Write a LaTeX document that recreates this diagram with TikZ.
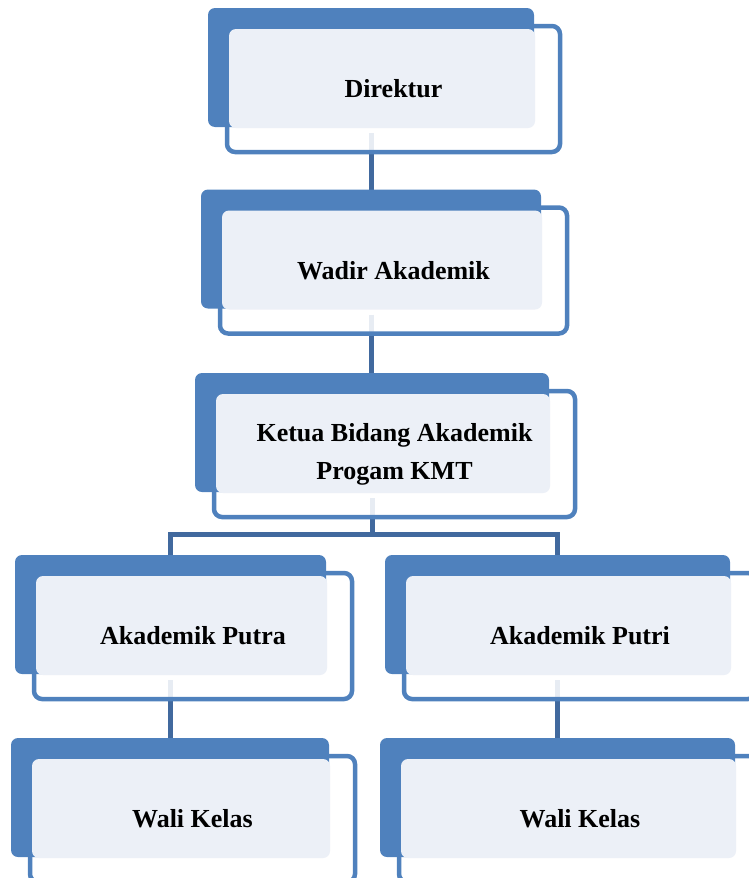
\documentclass[tikz,border=0pt]{standalone}
\usepackage{fontspec}
\setmainfont{Liberation Serif}
\usetikzlibrary{backgrounds,fit}
\pgfdeclarelayer{lines}
\pgfsetlayers{lines,background,main}

\definecolor{boxblue}{HTML}{4F81BD}
\definecolor{lineblue}{HTML}{41699E}
\definecolor{paleblue}{HTML}{ECF0F7}

% one unit of the chart: text node, ring behind, dark block, pale face
\newcommand{\orgbox}[4]{%
  \node[unit,minimum width=#3pt] (#1) at (#2) {#4};
  \coordinate (#1-nw) at ([shift={(-19,-18)}]#1.north west);
  \coordinate (#1-se) at ([shift={(-25,-24)}]#1.south east);
  \coordinate (#1-in) at ([shift={(-26,-25)}]#1.south east);
  \begin{pgfonlayer}{background}
    \draw[ring] (#1.north west) rectangle (#1.south east);
    \node[back,fit=(#1-nw)(#1-in)] (#1-bg) {};
    \fill[face] ([shift={(2,3)}]#1.north west) rectangle (#1-se);
  \end{pgfonlayer}
}

\begin{document}
\begin{tikzpicture}[x=1pt,y=-1pt,
    unit/.style={inner sep=0pt,outer sep=0pt,minimum height=126pt,align=center,
                 font=\bfseries\fontsize{26}{38}\selectfont},
    ring/.style={draw=boxblue,line width=4.5pt,rounded corners=8pt,fill=white,fill opacity=.88},
    back/.style={fill=boxblue,inner sep=0pt,outer sep=0pt,rounded corners=7pt},
    face/.style={fill=paleblue,rounded corners=7pt},
    conn/.style={draw=lineblue,line width=5pt}]

  \useasboundingbox (0,0) rectangle (749,878);

  \orgbox{dir}{393.5,89}{333}{Direktur}
  \orgbox{wadir}{393.5,270.5}{347}{Wadir Akademik}
  \orgbox{ketua}{394.5,454}{361}{Ketua Bidang Akademik\\Progam KMT}
  \orgbox{putra}{193,636}{318}{Akademik Putra}
  \orgbox{putri}{580,636}{352}{Akademik Putri}
  \orgbox{walia}{192.5,819}{325}{Wali Kelas}
  \orgbox{walib}{580,819}{362}{Wali Kelas}

  \begin{pgfonlayer}{lines}
    \draw[conn] ([yshift=-6pt]dir-bg.south) -- (dir-bg.south |- wadir-bg.north);
    \draw[conn] ([yshift=-6pt]wadir-bg.south) -- (wadir-bg.south |- ketua-bg.north);
    \coordinate (split) at ([yshift=-42pt]ketua-bg.south);
    \draw[conn] ([yshift=-6pt]ketua-bg.south) -- (split);
    \draw[conn] (putra-bg.north) |- (split) -| (putri-bg.north);
    \draw[conn] ([yshift=-6pt]putra-bg.south) -- (putra-bg.south |- walia-bg.north);
    \draw[conn] ([yshift=-6pt]putri-bg.south) -- (putri-bg.south |- walib-bg.north);
  \end{pgfonlayer}

\end{tikzpicture}
\end{document}
